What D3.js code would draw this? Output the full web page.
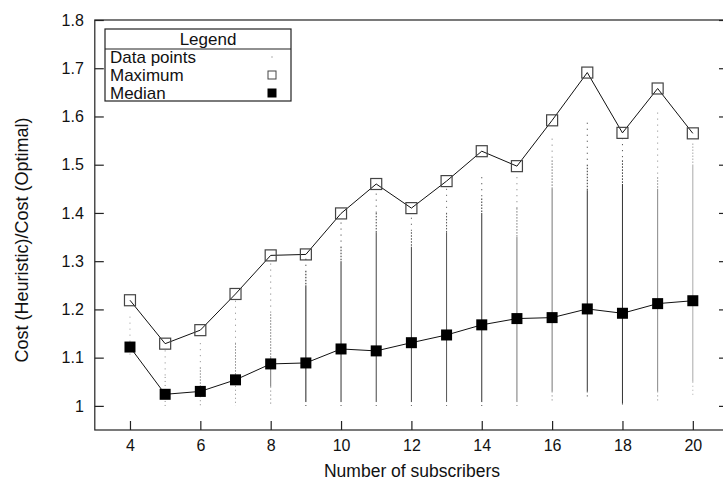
<!DOCTYPE html>
<html><head><meta charset="utf-8">
<script src="https://cdn.jsdelivr.net/npm/d3@7"></script>
<style>body{margin:0;background:#fff}svg{display:block;font-family:"Liberation Sans",Arial,sans-serif}</style>
</head><body><svg id="c" width="723" height="483"></svg>
<script>
const subscribers = [4,5,6,7,8,9,10,11,12,13,14,15,16,17,18,19,20];
const maximum = [1.219,1.129,1.157,1.232,1.312,1.314,1.399,1.460,1.410,1.466,1.528,1.497,1.592,1.691,1.566,1.658,1.565];
const median  = [1.122,1.024,1.030,1.054,1.087,1.089,1.118,1.114,1.131,1.147,1.168,1.181,1.183,1.201,1.192,1.212,1.218];
// data-point cloud per column:
// highest sparse dot, top of dotted part, top of solid part, bottom of solid part, lowest dot, gray level
const cloudTop      = [1.185,1.115,1.130,1.218,1.295,1.305,1.380,1.440,1.390,1.450,1.474,1.474,1.554,1.587,1.555,1.608,1.544];
const cloudDotted   = [1.125,1.060,1.080,1.130,1.190,1.280,1.330,1.400,1.360,1.400,1.430,1.410,1.509,1.500,1.509,1.474,1.544];
const cloudSolidTop = [1.125,1.060,1.020,1.050,1.100,1.250,1.300,1.360,1.330,1.360,1.400,1.350,1.450,1.447,1.460,1.450,1.500];
const cloudSolidBot = [1.125,1.060,1.020,1.050,1.040,1.010,1.010,1.010,1.010,1.010,1.010,1.010,1.030,1.030,1.005,1.030,1.050];
const cloudBottom   = [1.100,1.000,1.000,1.000,1.000,1.000,1.000,1.000,1.000,1.000,1.000,1.000,1.007,1.015,1.000,1.007,1.020];
const cloudShade    = ["#999","#888","#888","#888","#777","#222","#333","#444","#444","#555","#333","#777","#777","#333","#333","#888","#aaa"];
const yTicks = [1,1.1,1.2,1.3,1.4,1.5,1.6,1.7,1.8];
const xTicks = [4,6,8,10,12,14,16,18,20];

const svg = d3.select("#c");
const x = d3.scaleLinear().domain([3,21]).range([94.8,728]);
const y = d3.scaleLinear().domain([0.95,1.8]).range([430,20]);
const L = x(3), R = x(21), T = y(1.8), B = y(0.95);

// data point clouds
const segs = [];
subscribers.forEach((s,i)=>{
  const c = cloudShade[i];
  segs.push({s,a:cloudTop[i],b:cloudDotted[i],c,dash:"1,5"});
  segs.push({s,a:cloudDotted[i],b:cloudSolidTop[i],c,dash:"1.5,1.5"});
  segs.push({s,a:cloudSolidTop[i],b:cloudSolidBot[i],c,dash:null});
  segs.push({s,a:cloudSolidBot[i],b:cloudBottom[i],c,dash:"1,3"});
});
svg.append("g").selectAll("line").data(segs.filter(d=>d.a>d.b)).join("line")
  .attr("x1",d=>x(d.s)).attr("x2",d=>x(d.s)).attr("y1",d=>y(d.a)).attr("y2",d=>y(d.b))
  .attr("stroke",d=>d.c).attr("stroke-width",1).attr("stroke-dasharray",d=>d.dash);

// frame
svg.append("rect").attr("x",L).attr("y",T).attr("width",R-L).attr("height",B-T)
  .attr("fill","none").attr("stroke","#222").attr("stroke-width",1.2);

// axes
const yAx = svg.append("g").attr("transform",`translate(${L},0)`)
  .call(d3.axisLeft(y).tickValues(yTicks).tickFormat(d=>d===1?"1":d3.format(".1f")(d)).tickSizeInner(-9).tickSizeOuter(0).tickPadding(11));
const yAxR = svg.append("g").attr("transform",`translate(${R},0)`)
  .call(d3.axisRight(y).tickValues(yTicks).tickFormat("").tickSizeInner(-9).tickSizeOuter(0));
const xAx = svg.append("g").attr("transform",`translate(0,${B})`)
  .call(d3.axisBottom(x).tickValues(xTicks).tickSizeInner(-9).tickSizeOuter(0).tickPadding(10));
[yAx,yAxR,xAx].forEach(g=>{
  g.select(".domain").remove();
  g.selectAll("line").attr("stroke","#222").attr("stroke-width",1.2);
  g.selectAll("text").attr("font-size",16).attr("fill","#111").attr("font-family","Liberation Sans, Arial, sans-serif");
});

// lines
const line = d3.line().x((d,i)=>x(subscribers[i])).y(d=>y(d));
svg.append("path").attr("d",line(maximum)).attr("fill","none").attr("stroke","#111").attr("stroke-width",1);
svg.append("path").attr("d",line(median)).attr("fill","none").attr("stroke","#111").attr("stroke-width",1);

// markers
const ms = 11;
svg.selectAll("rect.mx").data(maximum).join("rect").attr("class","mx")
  .attr("x",(d,i)=>x(subscribers[i])-ms/2).attr("y",d=>y(d)-ms/2).attr("width",ms).attr("height",ms)
  .attr("fill","none").attr("stroke","#444").attr("stroke-width",1.2);
svg.selectAll("rect.md").data(median).join("rect").attr("class","md")
  .attr("x",(d,i)=>x(subscribers[i])-ms/2).attr("y",d=>y(d)-ms/2).attr("width",ms).attr("height",ms)
  .attr("fill","#000");

// legend
const lg = svg.append("g");
const lx = 105, ly = 29, lw = 186, lh = 72;
lg.append("rect").attr("x",lx).attr("y",ly).attr("width",lw).attr("height",lh).attr("fill","#fff").attr("stroke","#222").attr("stroke-width",1.2);
lg.append("line").attr("x1",lx).attr("x2",lx+lw).attr("y1",ly+20).attr("y2",ly+20).attr("stroke","#222").attr("stroke-width",1.2);
lg.append("text").attr("x",lx+lw/2+10).attr("y",ly+16).attr("text-anchor","middle").attr("font-size",17).attr("fill","#111").text("Legend");
const items = ["Data points","Maximum","Median"];
items.forEach((t,i)=>{
  const by = ly+34+i*18;
  lg.append("text").attr("x",lx+5).attr("y",by).attr("font-size",17).attr("fill","#111").text(t);
  const mx = 272, my = by-6;
  if(i===0) lg.append("rect").attr("x",mx-0.5).attr("y",my-0.5).attr("width",1).attr("height",1).attr("fill","#666");
  if(i===1) lg.append("rect").attr("x",mx-4).attr("y",my-4).attr("width",8).attr("height",8).attr("fill","none").attr("stroke","#444");
  if(i===2) lg.append("rect").attr("x",mx-4.5).attr("y",my-4.5).attr("width",9).attr("height",9).attr("fill","#000");
});

// titles
svg.append("text").attr("x",412).attr("y",477).attr("text-anchor","middle").attr("font-size",17.5).attr("fill","#111").text("Number of subscribers");
svg.append("text").attr("transform","translate(28,240) rotate(-90)").attr("text-anchor","middle").attr("font-size",18).attr("fill","#111").text("Cost (Heuristic)/Cost (Optimal)");
</script></body></html>
